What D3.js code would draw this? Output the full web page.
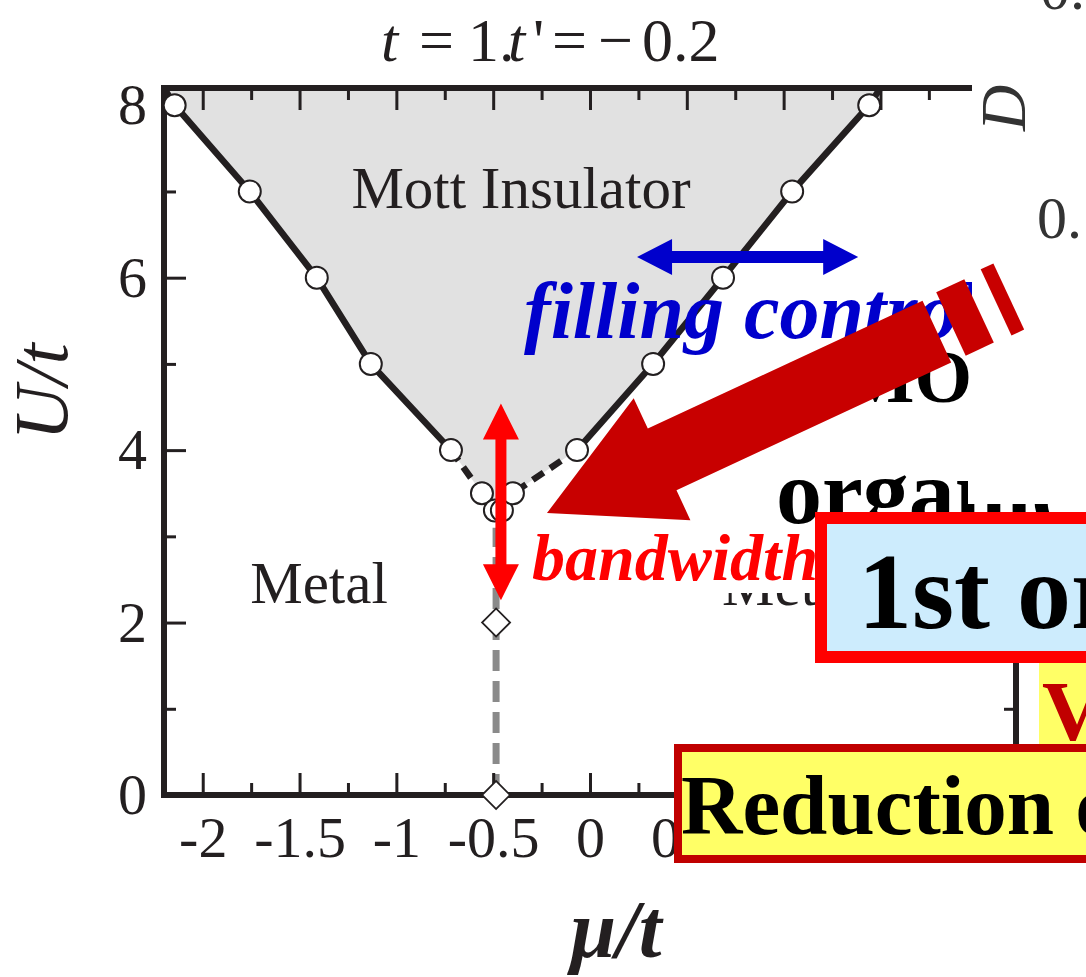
<!DOCTYPE html>
<html>
<head>
<meta charset="utf-8">
<script src="https://cdn.jsdelivr.net/npm/d3@7"></script>
<style>
  body { margin: 0; background: #fff; }
  svg { display: block; }
  text { font-family: "Liberation Serif", "Times New Roman", serif; }
</style>
</head>
<body>
<svg id="chart" width="1086" height="977"></svg>
<script>
"use strict";

// phase boundary, left branch
var leftMu = [-2.145, -1.757, -1.411, -1.132, -0.718, -0.558, -0.491];
var leftU  = [8, 7, 6, 5, 4, 3.5, 3.3];
// right branch
var rightMu = [-0.455, -0.398, -0.067, 0.326, 0.687, 1.044, 1.442];
var rightU  = [3.3, 3.5, 4, 5, 6, 7, 8];
// where the boundary lines meet the top of the frame
var edgeMu = [-2.2, 1.5];
var edgeU = 8.2;
// below this U the boundary is drawn dashed
var dashBelowU = 4;

// diamonds on the half filling line
var diamondMu = [-0.485, -0.485];
var diamondU  = [2, 0];
var halfFillTopU = 3.1;

// axes
var xDomain = [-2.2, 2.2];
var yDomain = [0, 8.2];
var xMajor = [-2, -1.5, -1, -0.5, 0, 0.5, 1, 1.5, 2];
var xMinor = [-1.75, -1.25, -0.75, -0.25, 0.25, 0.75, 1.25, 1.75];
var yMajor = [0, 2, 4, 6, 8];
var yMinor = [1, 3, 5, 7];

// annotation arrows in data units
var fillArrow = { u: 6.24, mu1: 0.243, mu2: 1.385 };
var bandArrow = { mu: -0.46, u1: 2.26, u2: 4.54 };

var ink = "#231f20";
var serif = '"Liberation Serif", "Times New Roman", serif';

var svg = d3.select("#chart");

var x = d3.scaleLinear().domain(xDomain).range([164, 1016]);
var y = d3.scaleLinear().domain(yDomain).range([795, 88]);

svg.append("clipPath").attr("id", "plotClip")
  .append("rect")
    .attr("x", x(xDomain[0])).attr("y", y(yDomain[1]))
    .attr("width", x(xDomain[1]) - x(xDomain[0]))
    .attr("height", y(yDomain[0]) - y(yDomain[1]));

var left = leftMu.map(function(m, i) { return { mu: m, u: leftU[i] }; });
var right = rightMu.map(function(m, i) { return { mu: m, u: rightU[i] }; });
var topLeft = { mu: edgeMu[0], u: edgeU };
var topRight = { mu: edgeMu[1], u: edgeU };

var line = d3.line()
  .x(function(d) { return x(d.mu); })
  .y(function(d) { return y(d.u); });

var plot = svg.append("g").attr("clip-path", "url(#plotClip)");

// insulating region
plot.append("path")
  .datum([topLeft].concat(left, right, [topRight]))
  .attr("d", function(d) { return line(d) + "Z"; })
  .attr("fill", "#e1e1e1");

// half filling line
plot.append("path")
  .datum([{ mu: diamondMu[1], u: 0 }, { mu: diamondMu[1], u: halfFillTopU }])
  .attr("d", line)
  .attr("fill", "none")
  .attr("stroke", "#8a8a8a")
  .attr("stroke-width", 7)
  .attr("stroke-dasharray", "21,10");

// boundary, solid above U=4 and dashed below
var solidLeft = [topLeft].concat(left.filter(function(d) { return d.u >= dashBelowU; }));
var solidRight = right.filter(function(d) { return d.u >= dashBelowU; }).concat([topRight]);
var dashed = left.filter(function(d) { return d.u <= dashBelowU; })
  .concat(right.filter(function(d) { return d.u <= dashBelowU; }));

[solidLeft, solidRight].forEach(function(seg) {
  plot.append("path").datum(seg).attr("d", line)
    .attr("fill", "none").attr("stroke", ink).attr("stroke-width", 6.5);
});
plot.append("path").datum(dashed).attr("d", line)
  .attr("fill", "none").attr("stroke", ink).attr("stroke-width", 6.5)
  .attr("stroke-dasharray", "13,8");

// axes, ticks point inward
function styleAxis(g) {
  g.select(".domain").remove();
  g.selectAll("line").attr("stroke", ink).attr("stroke-width", 3);
  g.selectAll("text").attr("fill", ink);
  g.attr("font-size", 58).attr("font-family", serif);
}
function noLabel() { return ""; }

svg.append("g").attr("transform", "translate(" + x(xDomain[0]) + ",0)")
  .call(d3.axisLeft(y).tickValues(yMajor).tickSize(-22).tickPadding(17)
    .tickFormat(function(d) { return String(d); }))
  .call(styleAxis);
svg.append("g").attr("transform", "translate(" + x(xDomain[0]) + ",0)")
  .call(d3.axisLeft(y).tickValues(yMinor).tickSize(-12).tickFormat(noLabel))
  .call(styleAxis);

svg.append("g").attr("transform", "translate(" + x(xDomain[1]) + ",0)")
  .call(d3.axisRight(y).tickValues(yMajor).tickSize(-22).tickFormat(noLabel))
  .call(styleAxis);
svg.append("g").attr("transform", "translate(" + x(xDomain[1]) + ",0)")
  .call(d3.axisRight(y).tickValues(yMinor).tickSize(-12).tickFormat(noLabel))
  .call(styleAxis);

svg.append("g").attr("transform", "translate(0," + y(yDomain[0]) + ")")
  .call(d3.axisBottom(x).tickValues(xMajor).tickSize(-22).tickPadding(21)
    .tickFormat(function(d) { return String(d); }))
  .call(styleAxis);
svg.append("g").attr("transform", "translate(0," + y(yDomain[0]) + ")")
  .call(d3.axisBottom(x).tickValues(xMinor).tickSize(-12).tickFormat(noLabel))
  .call(styleAxis);

svg.append("g").attr("transform", "translate(0," + y(yDomain[1]) + ")")
  .call(d3.axisTop(x).tickValues(xMajor).tickSize(-22).tickFormat(noLabel))
  .call(styleAxis);
svg.append("g").attr("transform", "translate(0," + y(yDomain[1]) + ")")
  .call(d3.axisTop(x).tickValues(xMinor).tickSize(-12).tickFormat(noLabel))
  .call(styleAxis);

svg.append("rect")
  .attr("x", x(xDomain[0])).attr("y", y(yDomain[1]))
  .attr("width", x(xDomain[1]) - x(xDomain[0]))
  .attr("height", y(yDomain[0]) - y(yDomain[1]))
  .attr("fill", "none").attr("stroke", ink).attr("stroke-width", 6);

// markers
svg.selectAll(".pt")
  .data(left.concat(right))
  .enter().append("circle")
    .attr("class", "pt")
    .attr("cx", function(d) { return x(d.mu); })
    .attr("cy", function(d) { return y(d.u); })
    .attr("r", 11)
    .attr("fill", "#fff")
    .attr("stroke", ink)
    .attr("stroke-width", 2);

svg.selectAll(".dia")
  .data(diamondMu.map(function(m, i) { return { mu: m, u: diamondU[i] }; }))
  .enter().append("path")
    .attr("class", "dia")
    .attr("d", d3.symbol().type(d3.symbolSquare).size(392))
    .attr("transform", function(d) {
      return "translate(" + x(d.mu) + "," + y(d.u) + ") rotate(45)";
    })
    .attr("fill", "#fff")
    .attr("stroke", ink)
    .attr("stroke-width", 1.8);

// title and axis titles
var title = svg.append("text").attr("y", 61).attr("font-size", 62).attr("fill", ink);
title.append("tspan").attr("x", 381).attr("font-style", "italic").text("t");
title.append("tspan").attr("x", 419).text("=");
title.append("tspan").attr("x", 468).text("1.");
title.append("tspan").attr("x", 508).attr("font-style", "italic").text("t");
title.append("tspan").attr("x", 533).text("'");
title.append("tspan").attr("x", 552).text("=");
title.append("tspan").attr("x", 598).text("\u2212");
title.append("tspan").attr("x", 642).text("0.2");

svg.append("text")
  .attr("transform", "translate(67,392) rotate(-90)")
  .attr("text-anchor", "middle")
  .attr("font-size", 76).attr("font-style", "italic").attr("fill", ink)
  .text("U/t");

svg.append("text")
  .attr("x", 616).attr("y", 957)
  .attr("text-anchor", "middle")
  .attr("font-size", 82).attr("font-style", "italic").attr("font-weight", "bold")
  .attr("fill", ink)
  .text("\u03bc/t");

svg.append("text")
  .attr("x", 521).attr("y", 208).attr("text-anchor", "middle")
  .attr("font-size", 59).attr("fill", ink)
  .text("Mott Insulator");
svg.append("text")
  .attr("x", 319).attr("y", 603).attr("text-anchor", "middle")
  .attr("font-size", 59).attr("fill", ink)
  .text("Metal");

// double arrows
function doubleArrow(x1, y1, x2, y2, shaft, headL, headW) {
  var dx = x2 - x1, dy = y2 - y1, L = Math.hypot(dx, dy);
  var ux = dx / L, uy = dy / L, nx = -uy, ny = ux;
  function p(s, t) { return [x1 + ux * s + nx * t, y1 + uy * s + ny * t]; }
  var pts = [p(0, 0), p(headL, headW / 2), p(headL, shaft / 2), p(L - headL, shaft / 2),
    p(L - headL, headW / 2), p(L, 0), p(L - headL, -headW / 2), p(L - headL, -shaft / 2),
    p(headL, -shaft / 2), p(headL, -headW / 2)];
  return "M" + pts.join("L") + "Z";
}

svg.append("path")
  .attr("d", doubleArrow(x(fillArrow.mu1), y(fillArrow.u), x(fillArrow.mu2), y(fillArrow.u), 12, 35, 36))
  .attr("fill", "#0000cc");

svg.append("text")
  .attr("x", 524).attr("y", 338)
  .attr("font-size", 80).attr("font-style", "italic").attr("font-weight", "bold")
  .attr("fill", "#0000cc")
  .text("filling control");

svg.append("path")
  .attr("d", doubleArrow(x(bandArrow.mu), y(bandArrow.u2), x(bandArrow.mu), y(bandArrow.u1), 11, 36, 36))
  .attr("fill", "#ff0000");

svg.append("text")
  .attr("x", 532).attr("y", 580)
  .attr("font-size", 66).attr("font-style", "italic").attr("font-weight", "bold")
  .attr("fill", "#ff0000")
  .text("bandwidth");

// pieces of the slide behind the chart on the right
svg.append("rect").attr("x", 972).attr("y", 0).attr("width", 114).attr("height", 512).attr("fill", "#fff");
svg.append("text")
  .attr("transform", "translate(1025,108) rotate(-90)")
  .attr("text-anchor", "middle")
  .attr("font-size", 64).attr("font-style", "italic").attr("fill", "#333")
  .text("D");
svg.append("text").attr("x", 1037).attr("y", 238).attr("font-size", 60).attr("fill", "#333").text("0.");
svg.append("text").attr("x", 1040).attr("y", 9).attr("font-size", 60).attr("fill", "#333").text("0.");

svg.append("text")
  .attr("x", 972).attr("y", 402).attr("text-anchor", "end")
  .attr("font-size", 74).attr("font-weight", "bold").attr("fill", "#000")
  .text("MO");
svg.append("text")
  .attr("x", 776).attr("y", 523)
  .attr("font-size", 92).attr("font-weight", "bold").attr("fill", "#000")
  .text("organic");
// the rest of that word is hidden on the slide
svg.append("rect").attr("x", 968).attr("y", 430).attr("width", 118).attr("height", 74).attr("fill", "#fff");

svg.append("clipPath").attr("id", "metClip")
  .append("rect").attr("x", 700).attr("y", 593).attr("width", 115).attr("height", 20);
svg.append("text")
  .attr("clip-path", "url(#metClip)")
  .attr("x", 722).attr("y", 605)
  .attr("font-size", 59).attr("fill", ink)
  .text("Metal");

// big dark red arrow
var big = svg.append("g").attr("transform", "translate(547,513) rotate(-24.95)").attr("fill", "#c80000");
big.append("path").attr("d", "M0,0L127,-67.5L127,-34L430,-34L430,34L127,34L127,67Z");
big.append("rect").attr("x", 446).attr("y", -36).attr("width", 31).attr("height", 70);
big.append("rect").attr("x", 496).attr("y", -38).attr("width", 14).attr("height", 73);

// boxes
svg.append("rect").attr("x", 1039).attr("y", 660).attr("width", 60).attr("height", 90).attr("fill", "#ffff66");
svg.append("text")
  .attr("x", 1042).attr("y", 740)
  .attr("font-size", 85).attr("font-weight", "bold").attr("fill", "#c00000")
  .text("V");

svg.append("rect")
  .attr("x", 821).attr("y", 518).attr("width", 300).attr("height", 139)
  .attr("fill", "#cdecfd").attr("stroke", "#ff0000").attr("stroke-width", 12);
svg.append("text")
  .attr("x", 858).attr("y", 628)
  .attr("font-size", 108).attr("font-weight", "bold").attr("fill", "#000")
  .text("1st order transition");

svg.append("rect")
  .attr("x", 678).attr("y", 748).attr("width", 450).attr("height", 111)
  .attr("fill", "#ffff66").attr("stroke", "#c00000").attr("stroke-width", 8);
svg.append("text")
  .attr("x", 681).attr("y", 834)
  .attr("font-size", 85).attr("font-weight", "bold").attr("fill", "#000")
  .text("Reduction of");
</script>
</body>
</html>
